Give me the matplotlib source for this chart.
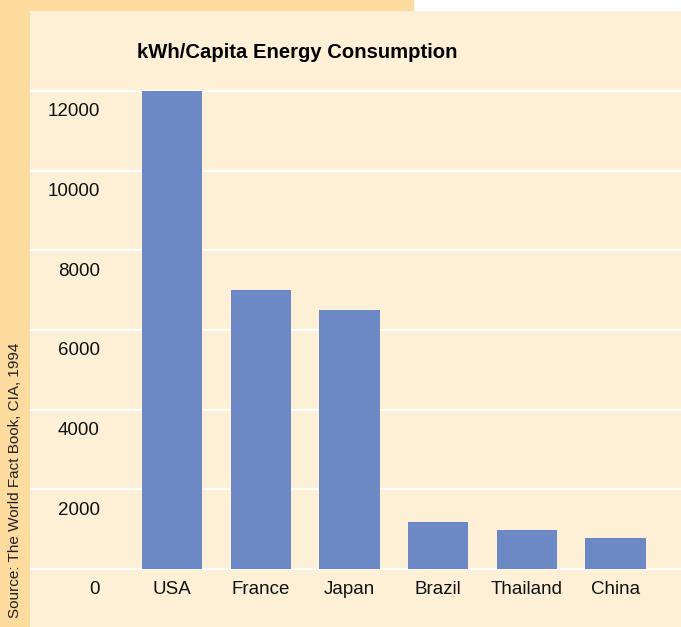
import matplotlib.pyplot as plt
from matplotlib.patches import Rectangle
from matplotlib.transforms import ScaledTranslation

# 데이터
countries = ['USA', 'France', 'Japan', 'Brazil', 'Thailand', 'China']
kwh_per_capita = [12000, 7000, 6500, 1170, 970, 770]
y_ticks = [0, 2000, 4000, 6000, 8000, 10000, 12000]

title = 'kWh/Capita Energy Consumption'
source = 'Source: The World Fact Book, CIA, 1994'

bar_color = '#6C89C5'
cream = '#FEF0D6'
orange = '#FEDB9E'

plt.rcParams['font.family'] = ['Liberation Sans', 'DejaVu Sans']

W, H = 681, 627
fig = plt.figure(figsize=(W / 100, H / 100), dpi=100)
fig.patch.set_facecolor('white')

# 배경 패널
fig.add_artist(Rectangle((0, (H - 11) / H), 413 / W, 11 / H,
                         transform=fig.transFigure, color=orange, zorder=0))
fig.add_artist(Rectangle((0, 0), 30 / W, 1,
                         transform=fig.transFigure, color=orange, zorder=0))

ax = fig.add_axes([30 / W, 0, 651 / W, (H - 11) / H])
ax.set_facecolor(cream)
for s in ax.spines.values():
    s.set_visible(False)

x = list(range(len(countries)))
ax.bar(x, kwh_per_capita, width=0.68, color=bar_color, zorder=3)

px = 88.7  # pixels per category
x0 = 172   # pixel of first bar centre
py = 79.7 / 2000  # pixels per kWh
ax.set_xlim(-(x0 - 30) / px, (681 - x0) / px)
ax.set_ylim(-(627 - 569) / py, (569 - 11) / py)
ax.set_xticks([])
ax.set_yticks([])

# 흰색 격자선
for v in y_ticks:
    ax.axhline(v, color='white', lw=1.6, zorder=1)

down = ScaledTranslation(0, -21 / 100, fig.dpi_scale_trans)
lab_x = -(x0 - 100) / px
for v in y_ticks:
    ax.text(lab_x, v, str(v), ha='right', va='center', fontsize=13.5,
            color='#111111', transform=ax.transData + down)
for i, c in enumerate(countries):
    ax.text(i, 0, c, ha='center', va='center', fontsize=13.5,
            color='#111111', transform=ax.transData + down)

fig.text(137 / W, 1 - 52 / H, title, ha='left', va='center', fontsize=14.6,
         fontweight='bold')
fig.text(15 / W, 1 - 343 / H, source, rotation=90, ha='center', va='top',
         fontsize=11, color='#222222')

fig.savefig('out.png', dpi=100)
